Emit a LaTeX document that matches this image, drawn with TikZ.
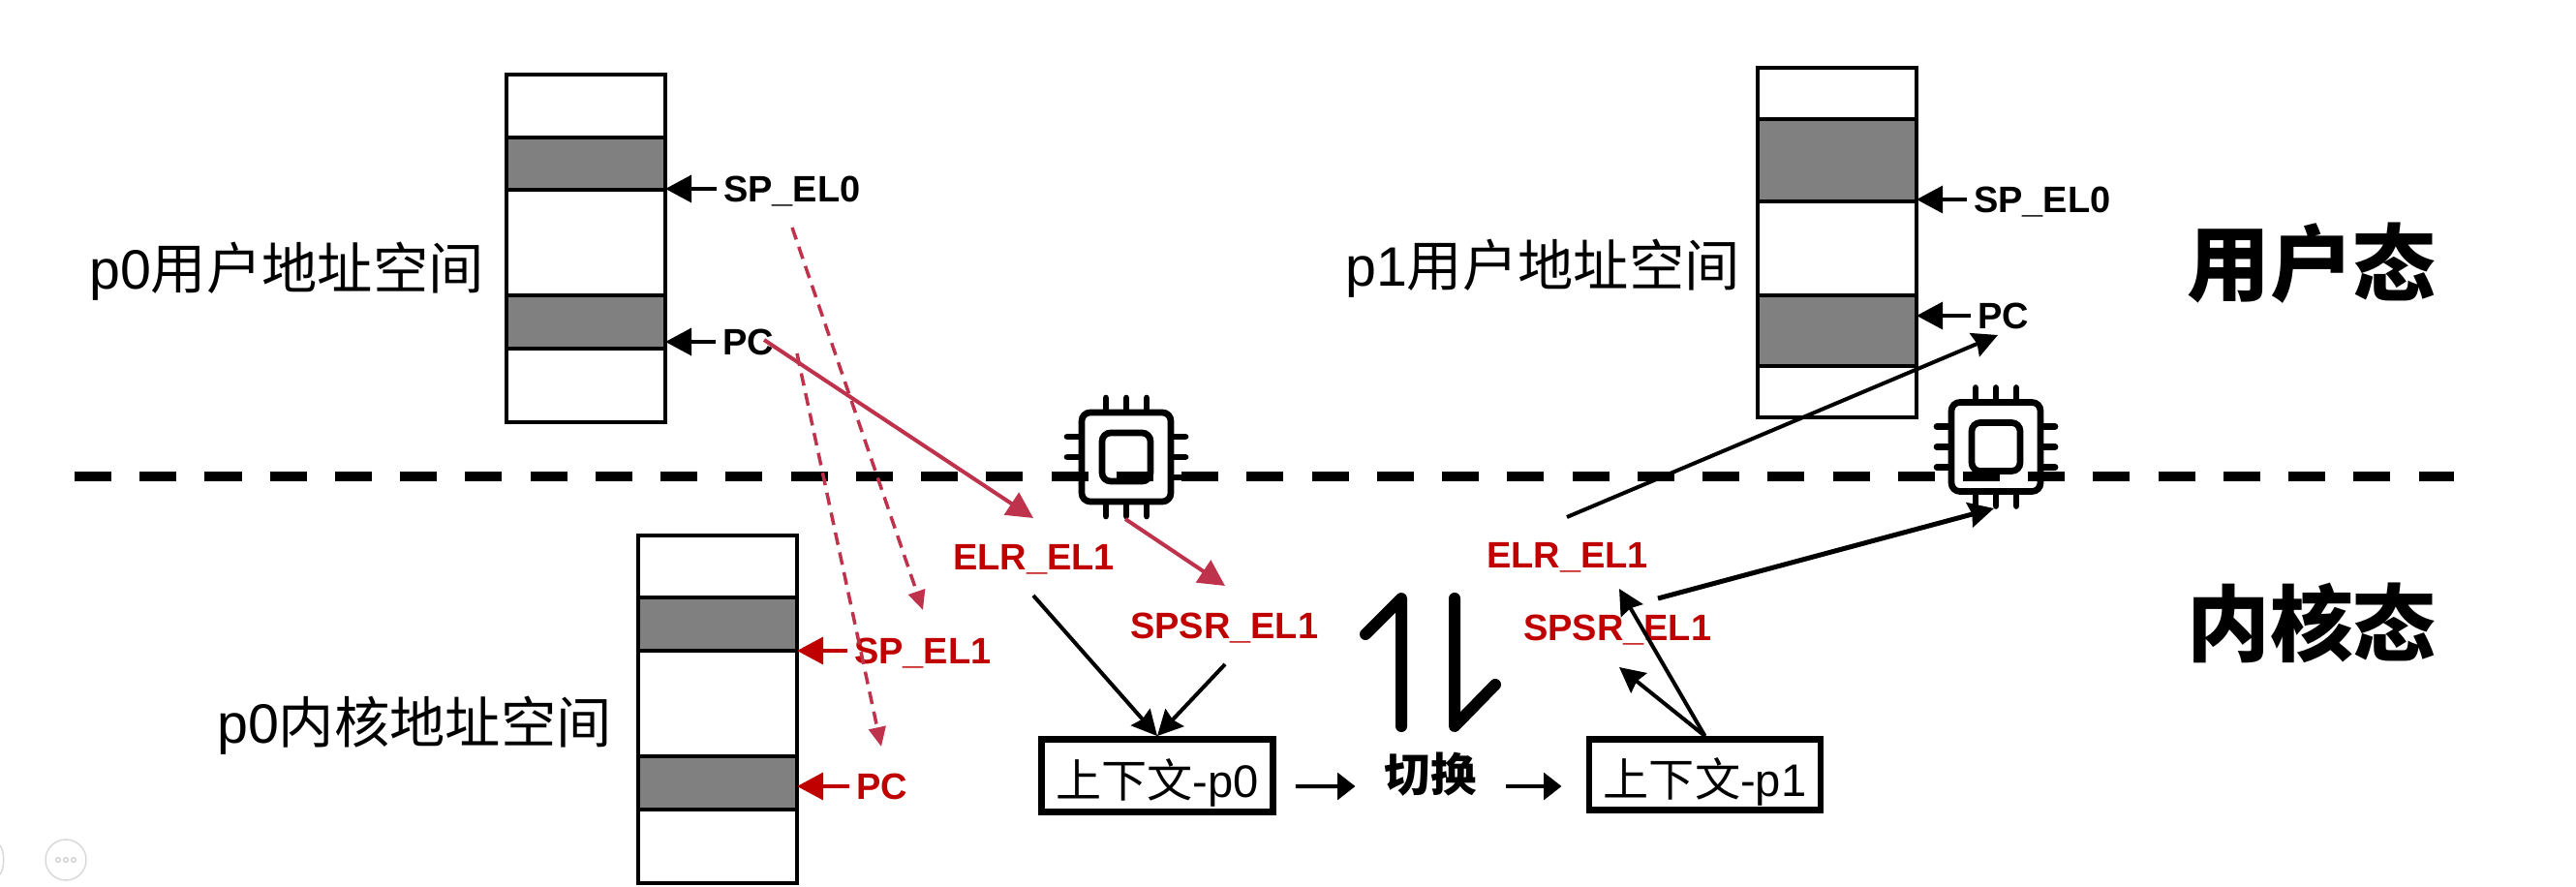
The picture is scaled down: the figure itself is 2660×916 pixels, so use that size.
\documentclass[tikz,border=0pt]{standalone}
\usepackage{fontspec}
\setmainfont{Liberation Sans}
\newfontfamily\cjk{Noto Sans CJK SC}
\usetikzlibrary{arrows.meta}
\definecolor{regred}{HTML}{C00000}
\definecolor{linkred}{HTML}{BE324C}
\tikzset{
    cell/.style={draw=black,line width=.043cm,anchor=north west,minimum width=1.64cm,inner sep=0pt,outer sep=0pt},
    used/.style={cell,fill=black!50},
    reg/.style={font=\fontsize{10.8pt}{12pt}\selectfont\bfseries,anchor=west,inner sep=0pt,outer sep=2pt,text height=7.7pt,text depth=0pt},
    redreg/.style={reg,text=regred},
    space/.style={font=\fontsize{16.3pt}{18pt}\selectfont,inner sep=0pt},
    mode/.style={font=\fontsize{24.4pt}{26pt}\selectfont\cjk\bfseries,inner sep=0pt},
    ctx/.style={draw=black,line width=.067cm,font=\fontsize{13.4pt}{15pt}\selectfont,inner sep=0pt,outer sep=.034cm,text height=12.6pt,text depth=0pt},
    ptr/.style={line width=.035cm,-{Triangle[length=7.7pt,width=8pt]}},
    step arrow/.style={line width=.04cm,-{Triangle[length=5.2pt,width=7.8pt]}},
    link/.style={line width=.04cm,-{Stealth[length=7.4pt,width=7.4pt,inset=.8pt]}},
    redlink/.style={line width=.04cm,draw=linkred,-{Triangle[length=7.7pt,width=7.7pt]}},
    reddash/.style={line width=.035cm,draw=linkred,dash pattern=on .13cm off .08cm,-{Triangle[length=5.7pt,width=5pt]}},
    chip/.pic={
        \draw[line width=.067cm,rounded corners=2.5pt] (-46,-46) rectangle (46,46);
        \draw[line width=.067cm,rounded corners=2.5pt] (-25,-25) rectangle (25,25);
        \draw[line width=.067cm,line cap=round]
            (-21,-48) -- (-21,-61) (0,-48) -- (0,-61) (21,-48) -- (21,-61)
            (-21,48) -- (-21,61) (0,48) -- (0,61) (21,48) -- (21,61)
            (-48,-21) -- (-61,-21) (-48,0) -- (-61,0) (-48,21) -- (-61,21)
            (48,-21) -- (61,-21) (48,0) -- (61,0) (48,21) -- (61,21);
    }
}
\begin{document}
\begin{tikzpicture}[x=.01cm,y=-.01cm]
    \useasboundingbox (0,0) rectangle (2660,916);
    % p0 user stack
    \node[cell,minimum height=.65cm] (p0uA) at (523,77) {};
    \node[used,minimum height=.54cm] (p0uB) at (523,142) {};
    \node[cell,minimum height=1.09cm] (p0uC) at (523,196) {};
    \node[used,minimum height=.55cm] (p0uD) at (523,305) {};
    \node[cell,minimum height=.76cm] (p0uE) at (523,360) {};
    % p1 user stack
    \node[cell,minimum height=.53cm] (p1uA) at (1815,70) {};
    \node[used,minimum height=.85cm] (p1uB) at (1815,123) {};
    \node[cell,minimum height=.97cm] (p1uC) at (1815,208) {};
    \node[used,minimum height=.73cm] (p1uD) at (1815,305) {};
    \node[cell,minimum height=.53cm] (p1uE) at (1815,378) {};
    % p0 kernel stack
    \node[cell,minimum height=.64cm] (p0kA) at (659,553) {};
    \node[used,minimum height=.55cm] (p0kB) at (659,617) {};
    \node[cell,minimum height=1.09cm] (p0kC) at (659,672) {};
    \node[used,minimum height=.55cm] (p0kD) at (659,781) {};
    \node[cell,minimum height=.76cm] (p0kE) at (659,836) {};
    % labels
    \node[space] (p0u) at (296,280) {p0{\cjk 用户地址空间}};
    \node[space] (p1u) at (1593,277) {p1{\cjk 用户地址空间}};
    \node[space] (p0k) at (428,749) {p0{\cjk 内核地址空间}};
    \node[mode] (user) at (2387,272) {用户态};
    \node[mode] (kernel) at (2387,643) {内核态};
    % registers
    \node[reg] (sp0A) at (740,195) {SP\_EL0};
    \node[reg] (pcA) at (739,353) {PC};
    \node[reg] (sp0B) at (2031,206) {SP\_EL0};
    \node[reg] (pcB) at (2035,326) {PC};
    \node[redreg] (sp1) at (875,672) {SP\_EL1};
    \node[redreg] (pcK) at (877,812) {PC};
    \node[redreg] (elrA) at (977,575) {ELR\_EL1};
    \node[redreg] (spsrA) at (1160,646) {SPSR\_EL1};
    \node[redreg] (elrB) at (1528,573) {ELR\_EL1};
    \node[redreg] (spsrB) at (1566,648) {SPSR\_EL1};
    % contexts
    \node[ctx,minimum width=2.39cm,minimum height=.75cm] (ctxA) at (1195,801) {{\cjk 上下文}-p0};
    \node[ctx,minimum width=2.39cm,minimum height=.73cm] (ctxB) at (1760.5,800) {{\cjk 上下文}-p1};
    \node[font=\fontsize{13.5pt}{15pt}\selectfont\cjk\bfseries,inner sep=0pt,outer sep=.30cm] (swap) at (1477,800) {切换};
    % divider and chips
    \coordinate (divL) at (77,492);
    \coordinate (divR) at (2534,492);
    \draw[line width=.095cm,dash pattern=on .38cm off .292cm] (divL) -- (divR);
    \pic at (1163,472) {chip};
    \pic at (2061,461.5) {chip};
    % free ends
    \coordinate (pcAout) at (789,351);
    \coordinate (dashAs) at (818,235);
    \coordinate (dashAe) at (953,630);
    \coordinate (dashBs) at (823,365);
    \coordinate (dashBe) at (910,771);
    \coordinate (elrAin) at (1067,535);
    \coordinate (elrAout) at (1067,615);
    \coordinate (chipAout) at (1162,536);
    \coordinate (spsrAin) at (1265,605);
    \coordinate (spsrAout) at (1265,686);
    \coordinate (elrBout) at (1618,534);
    \coordinate (pcBin) at (2063,346);
    \coordinate (spsrBout) at (1712,618);
    \coordinate (chipBin) at (2059,525);
    \coordinate (elrBin) at (1672,608);
    \coordinate (spsrBin) at (1672,689);
    % pointers into the stacks
    \draw[ptr] (sp0A.west) -- (sp0A.west -| p0uB.east);
    \draw[ptr] (pcA.west) -- (pcA.west -| p0uD.east);
    \draw[ptr] (sp0B.west) -- (sp0B.west -| p1uB.east);
    \draw[ptr] (pcB.west) -- (pcB.west -| p1uD.east);
    \draw[ptr,draw=regred,fill=regred] (sp1.west) -- (sp1.west -| p0kB.east);
    \draw[ptr,draw=regred,fill=regred] (pcK.west) -- (pcK.west -| p0kD.east);
    % saving p0
    \draw[reddash] (dashAs) -- (dashAe);
    \draw[reddash] (dashBs) -- (dashBe);
    \draw[redlink] (pcAout) -- (elrAin);
    \draw[redlink] (chipAout) -- (spsrAin);
    \draw[link] (elrAout) -- (ctxA.north);
    \draw[link] (spsrAout) -- (ctxA.north);
    % switching
    \draw[step arrow,shorten <=.2cm] ([yshift=-.11cm]ctxA.east) -- ([yshift=-.12cm]swap.west);
    \draw[step arrow,shorten >=.25cm] ([yshift=-.12cm]swap.east) -- ([yshift=-.12cm]ctxB.west);
    \draw[line width=.12cm,line cap=round,line join=round] (1410,655) -- (1447,618) -- (1447,750);
    \draw[line width=.12cm,line cap=round,line join=round] (1502,618) -- (1502,750) -- (1544,707);
    % restoring p1
    \draw[link] (ctxB.north) -- (elrBin);
    \draw[link] (ctxB.north) -- (spsrBin);
    \draw[link] (elrBout) -- (pcBin);
    \draw[link,line width=.05cm] (spsrBout) -- (chipBin);
    % bottom left marks
    \node[circle,draw=black!15,line width=.015cm,minimum size=.42cm,inner sep=0pt] (more) at (68,888) {};
    \draw[black!20,line width=.012cm] (60,888) circle (2.4) (68,888) circle (2.4) (76,888) circle (2.4);
    \draw[black!15,line width=.015cm] (0,873) .. controls (5,880) and (5,896) .. (0,903);
\end{tikzpicture}
\end{document}
